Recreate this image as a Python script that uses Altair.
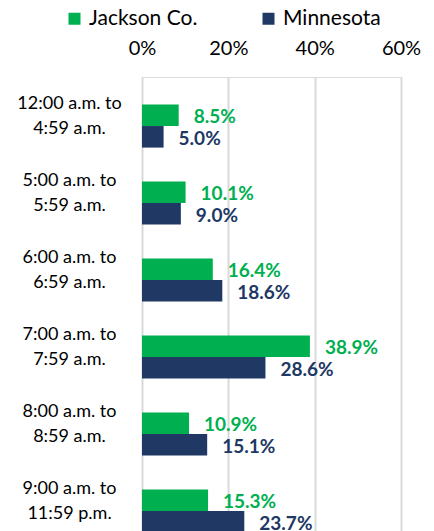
import altair as alt
import pandas as pd

categories = [
    "12:00 a.m. to|4:59 a.m.",
    "5:00 a.m. to|5:59 a.m.",
    "6:00 a.m. to|6:59 a.m.",
    "7:00 a.m. to|7:59 a.m.",
    "8:00 a.m. to|8:59 a.m.",
    "9:00 a.m. to|11:59 p.m.",
]
series = ["Jackson Co.", "Minnesota"]
jackson = [8.5, 10.1, 16.4, 38.9, 10.9, 15.3]
minnesota = [5.0, 9.0, 18.6, 28.6, 15.1, 23.7]
colors = ["#00B050", "#203864"]
x_ticks = [0, 0.2, 0.4, 0.6]

rows = []
for i, c in enumerate(categories):
    rows.append({"cat": c, "series": series[0], "value": jackson[i] / 100})
    rows.append({"cat": c, "series": series[1], "value": minnesota[i] / 100})
df = pd.DataFrame(rows)

FONT = "Lato"

y_enc = alt.Y(
    "cat:N",
    sort=categories,
    scale=alt.Scale(paddingInner=0.44, paddingOuter=0.357),
    axis=alt.Axis(
        title=None,
        labelExpr="split(datum.label, '|')",
        labelAlign="center",
        labelBaseline="middle",
        labelPadding=73,
        labelOffset=-22,
        labelFont=FONT,
        labelFontSize=18,
        labelLineHeight=25,
        labelColor="#000000",
        ticks=False,
        domain=False,
        grid=False,
    ),
)
yoff = alt.YOffset("series:N", sort=series, scale=alt.Scale(paddingInner=0, paddingOuter=0))
color = alt.Color(
    "series:N",
    sort=series,
    scale=alt.Scale(domain=series, range=colors),
    legend=alt.Legend(
        title=None,
        orient="none",
        direction="horizontal",
        legendX=-78,
        legendY=-69,
        symbolType="square",
        symbolSize=144,
        symbolStrokeWidth=0,
        labelFont=FONT,
        labelFontSize=21,
        labelColor="#000000",
        labelOffset=4,
        columnPadding=60,
        padding=0,
    ),
)

bars = alt.Chart(df).mark_bar().encode(
    x=alt.X(
        "value:Q",
        scale=alt.Scale(domain=[0, 0.6], nice=False),
        axis=alt.Axis(
            title=None,
            orient="top",
            values=x_ticks,
            format=".0%",
            labelFont=FONT,
            labelFontSize=20,
            labelColor="#000000",
            labelPadding=19,
            labelFlush=False,
            ticks=False,
            domain=False,
            grid=True,
            gridColor="#D9D9D9",
            gridWidth=2,
        ),
    ),
    y=y_enc,
    yOffset=yoff,
    color=color,
)

labels = alt.Chart(df).mark_text(
    align="left", baseline="middle", dx=15, dy=2, font=FONT, fontSize=19, fontWeight="bold"
).encode(
    x="value:Q",
    y=alt.Y("cat:N", sort=categories),
    yOffset=alt.YOffset("series:N", sort=series),
    text=alt.Text("value:Q", format=".1%"),
    color=alt.Color("series:N", sort=series, legend=None),
)

chart = (
    alt.layer(bars, labels)
    .properties(
        width=259,
        height=483,
        autosize=alt.AutoSizeParams(type="none"),
        padding={"left": 134, "top": 69, "right": 25, "bottom": 10},
    )
    .configure_view(stroke=None)
    .configure(background="white")
)

chart.save("out.html", embed_options={"renderer": "svg", "actions": False})
